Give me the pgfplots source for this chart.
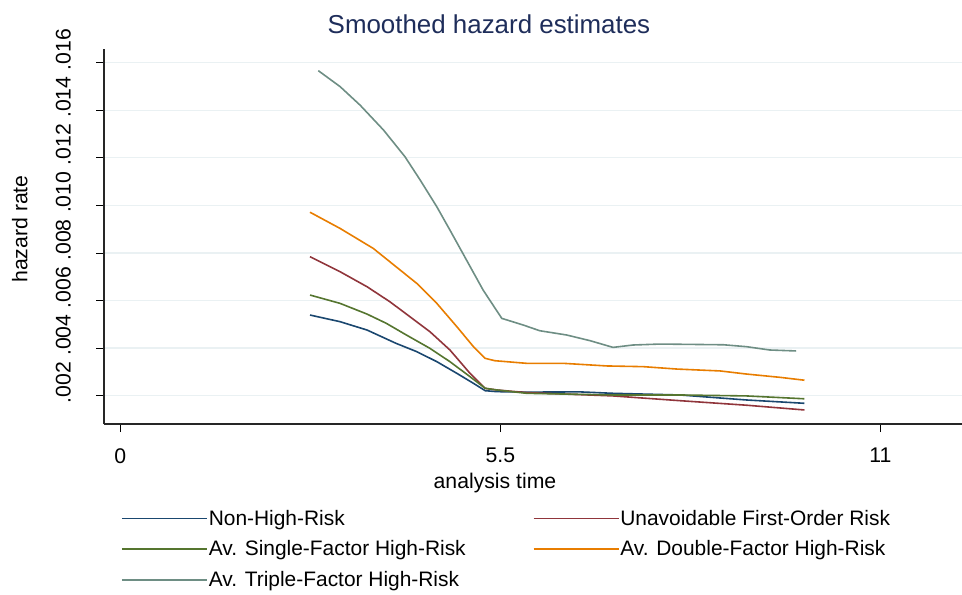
\documentclass[border=0pt]{standalone}
\usepackage{pgfplots}
\pgfplotsset{compat=1.18}
\usepackage{fontspec}
\setmainfont{Liberation Sans}

\definecolor{stnavy}{RGB}{26,71,111}
\definecolor{stmaroon}{RGB}{144,53,59}
\definecolor{stgreen}{RGB}{85,117,47}
\definecolor{storange}{RGB}{232,125,0}
\definecolor{stteal}{RGB}{110,142,132}
\definecolor{sttitle}{RGB}{30,45,90}
\definecolor{stgrid}{RGB}{234,241,243}

\begin{document}
\begin{tikzpicture}
\useasboundingbox (0,0) rectangle (962bp,-595bp);
\begin{axis}[
    at={(104bp,-424bp)}, anchor=south west,
    scale only axis,
    width=858bp, height=375bp,
    xmin=-0.236, xmax=12.18,
    ymin=0.00081, ymax=0.01657,
    axis x line*=bottom, axis y line*=left,
    axis line style={black!85, line width=1.2bp, -},
    xtick={0,5.5,11},
    xticklabels={0,5.5,11},
    ytick={0.002,0.004,0.006,0.008,0.010,0.012,0.014,0.016},
    yticklabels={.002,.004,.006,.008,.010,.012,.014,.016},
    scaled y ticks=false,
    tick align=outside,
    major tick length=8bp,
    tick style={black, line width=0.8bp},
    ymajorgrids,
    grid style={stgrid, line width=1.3bp},
    font=\fontsize{21.3}{25}\selectfont,
    /pgf/number format/assume math mode=true,
    xticklabel style={inner sep=0pt, yshift=-16bp},
    yticklabel style={yshift=13bp, xshift=-25bp, rotate=90, anchor=south, inner sep=0pt},
    title={Smoothed hazard estimates},
    title style={at={(0.4487,1.0267)}, anchor=base, text=sttitle, font=\fontsize{26}{30}\selectfont},
    xlabel={analysis time},
    xlabel style={at={(0.4557,-0.173)}, anchor=base},
    ylabel={hazard rate},
    ylabel style={at={(-0.098,0.52)}, anchor=center, rotate=0},
    legend columns=2,
    legend style={at={(0.0163,-0.221)}, anchor=north west, draw=none, fill=none,
        font=\fontsize{21}{25}\selectfont,
        nodes={inner sep=1bp},
        row sep=12bp,
        /tikz/every even column/.append style={column sep=66bp}},
    legend cell align=left,
    legend image code/.code={\draw[#1] (0bp,0bp) -- (85bp,0bp);},
    every axis plot/.append style={line width=1.6bp},
]
\addplot[stnavy] coordinates {
    (2.745,0.00539) (3.18,0.00511) (3.57,0.00476) (3.99,0.00420) (4.29,0.00385)
    (4.58,0.00343) (4.87,0.00294) (5.11,0.00252) (5.28,0.00221) (5.45,0.00217)
    (5.88,0.00215) (6.65,0.00216) (7.13,0.00210) (8.10,0.00203) (9.06,0.00182)
    (9.90,0.00168)
};
\addlegendentry{Non-High-Risk}
\addplot[stmaroon] coordinates {
    (2.745,0.00784) (3.18,0.00721) (3.57,0.00658) (3.90,0.00595) (4.14,0.00543)
    (4.48,0.00469) (4.77,0.00392) (5.06,0.00294) (5.28,0.00231) (5.45,0.00224)
    (5.88,0.00213) (7.13,0.00199) (8.10,0.00179) (9.06,0.00160) (9.90,0.00140)
};
\addlegendentry{Unavoidable First-Order Risk}
\addplot[stgreen] coordinates {
    (2.745,0.00623) (3.18,0.00588) (3.57,0.00543) (3.85,0.00504) (4.14,0.00455)
    (4.48,0.00399) (4.77,0.00343) (5.06,0.00280) (5.28,0.00231) (5.45,0.00224)
    (5.88,0.00210) (7.13,0.00203) (8.10,0.00203) (9.06,0.00199) (9.90,0.00187)
};
\addlegendentry{Av. Single-Factor High-Risk}
\addplot[storange] coordinates {
    (2.745,0.00971) (3.18,0.00903) (3.66,0.00819) (3.99,0.00742) (4.29,0.00672)
    (4.58,0.00588) (4.87,0.00490) (5.11,0.00406) (5.28,0.00357) (5.42,0.00347)
    (5.88,0.00336) (6.41,0.00336) (7.04,0.00325) (7.57,0.00322) (8.05,0.00312)
    (8.68,0.00304) (9.06,0.00291) (9.55,0.00277) (9.90,0.00265)
};
\addlegendentry{Av. Double-Factor High-Risk}
\addplot[stteal] coordinates {
    (2.865,0.01566) (3.18,0.01499) (3.47,0.01421) (3.81,0.01316) (4.12,0.01204)
    (4.34,0.01106) (4.58,0.00994) (4.77,0.00896) (5.01,0.00770) (5.25,0.00644)
    (5.52,0.00525) (5.83,0.00497) (6.07,0.00473) (6.46,0.00455) (6.80,0.00431)
    (7.13,0.00403) (7.42,0.00413) (7.81,0.00417) (8.73,0.00414) (9.06,0.00406)
    (9.40,0.00392) (9.78,0.00388)
};
\addlegendentry{Av. Triple-Factor High-Risk}
\end{axis}
\end{tikzpicture}
\end{document}
